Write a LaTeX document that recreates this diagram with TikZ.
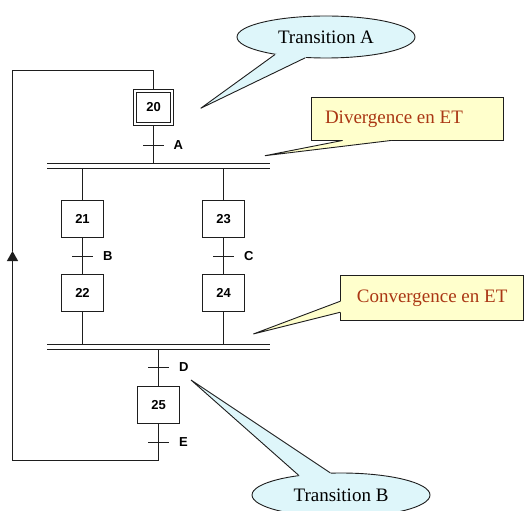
\documentclass[tikz,border=0pt]{standalone}
\usepackage{fontspec}
\setmainfont{Liberation Serif}
\setsansfont{Liberation Sans}
\usetikzlibrary{arrows.meta,calc,shapes.geometric}
\definecolor{linec}{RGB}{30,30,30}
\definecolor{bubblec}{RGB}{222,246,250}
\definecolor{notec}{RGB}{255,255,204}
\definecolor{notetext}{RGB}{170,55,20}
\begin{document}
\begin{tikzpicture}[x=1bp,y=-1bp,
  etape/.style={draw=linec, line width=1.2bp, minimum width=42bp, minimum height=37bp, inner sep=0pt,
    font=\sffamily\bfseries\fontsize{13bp}{15bp}\selectfont},
  etapeinit/.style={etape, double=white, double distance=2.2bp, line width=1bp,
    minimum width=37.6bp, minimum height=33.6bp},
  link/.style={draw=linec, line width=1.2bp},
  barline/.style={draw=linec, line width=1.2bp},
  tick/.style={draw=linec, line width=1.2bp},
  lbl/.style={anchor=west, inner sep=0pt, font=\sffamily\bfseries\fontsize{13bp}{15bp}\selectfont},
  bubble/.style={ellipse, draw=linec, fill=bubblec, line width=0.9bp, inner sep=0pt,
    minimum width=178bp, minimum height=42bp, font=\fontsize{19bp}{22bp}\selectfont},
  note/.style={rectangle, draw=linec, fill=notec, line width=0.9bp, inner ysep=0pt,
    text=notetext, font=\fontsize{19bp}{22bp}\selectfont},
  callline/.style={draw=linec, line width=0.9bp, line join=miter}
]
\useasboundingbox (0,0) rectangle (525,511);

% coordinates
\coordinate (loopTL) at (12.5,70.5);
\coordinate (loopBL) at (12.5,460.5);
\coordinate (arr) at (12.5,251);
\coordinate (tA) at (153.5,145.5);
\coordinate (divTL) at (47,163.5);
\coordinate (divTR) at (269.5,163.5);
\coordinate (divBL) at (47,168.5);
\coordinate (divBR) at (269.5,168.5);
\coordinate (tB) at (82.5,256.5);
\coordinate (tC) at (223.5,256.5);
\coordinate (convTL) at (47,344.5);
\coordinate (convTR) at (269.5,344.5);
\coordinate (convBL) at (47,349.5);
\coordinate (convBR) at (269.5,349.5);
\coordinate (tD) at (158.5,367.5);
\coordinate (tE) at (158.5,442.5);

% steps
\node[etapeinit] (s20) at (153.5,107.5) {20};
\node[etape] (s21) at (82.5,219) {21};
\node[etape] (s23) at (223.5,219) {23};
\node[etape] (s22) at (82.5,293) {22};
\node[etape] (s24) at (223.5,293) {24};
\node[etape] (s25) at (158.5,405) {25};

% links
\draw[link] (loopTL) -| (s20.north);
\draw[link] (s20.south) -- (s20.south |- divTL);
\draw[barline] (divTL) -- (divTR);
\draw[barline] (divBL) -- (divBR);
\draw[link] (s21.north |- divBL) -- (s21.north);
\draw[link] (s23.north |- divBL) -- (s23.north);
\draw[link] (s21.south) -- (s22.north);
\draw[link] (s23.south) -- (s24.north);
\draw[link] (s22.south) -- (s22.south |- convTL);
\draw[link] (s24.south) -- (s24.south |- convTL);
\draw[barline] (convTL) -- (convTR);
\draw[barline] (convBL) -- (convBR);
\draw[link] (tD |- convBL) -- (s25.north);
\draw[link] (s25.south) |- (loopBL);
\draw[link, -{Triangle[length=10bp,width=11bp]}] (loopBL) -- (arr);
\draw[link] (arr) -- (loopTL);

% transitions
\draw[tick] ([xshift=-10.5bp]tA) -- ([xshift=10.5bp]tA);
\draw[tick] ([xshift=-10.5bp]tB) -- ([xshift=10.5bp]tB);
\draw[tick] ([xshift=-10.5bp]tC) -- ([xshift=10.5bp]tC);
\draw[tick] ([xshift=-10.5bp]tD) -- ([xshift=10.5bp]tD);
\draw[tick] ([xshift=-10.5bp]tE) -- ([xshift=10.5bp]tE);
\node[lbl] (lA) at ([xshift=20bp]tA) {A};
\node[lbl] (lB) at ([xshift=20.5bp]tB) {B};
\node[lbl] (lC) at ([xshift=20.5bp]tC) {C};
\node[lbl] (lD) at ([xshift=20.5bp]tD) {D};
\node[lbl] (lE) at ([xshift=20.5bp]tE) {E};

% callout Transition A
\node[bubble] (cA) at (326,37) {Transition A};
\coordinate (pA) at (200.7,108.3);
\fill[bubblec] (cA.199) -- (pA) -- (cA.225) -- ($(cA.225)!3bp!(cA.center)$) -- ($(cA.199)!3bp!(cA.center)$) -- cycle;
\draw[callline] (cA.199) -- (pA) -- (cA.225);

% callout Transition B
\node[bubble, minimum height=44bp] (cB) at (341,495) {Transition B};
\coordinate (pB) at (191,380);
\fill[bubblec] (cB.155.7) -- (pB) -- (cB.116.8) -- ($(cB.116.8)!3bp!(cB.center)$) -- ($(cB.155.7)!3bp!(cB.center)$) -- cycle;
\draw[callline] (cB.155.7) -- (pB) -- (cB.116.8);

% note Divergence
\node[note, inner xsep=13.3bp, minimum height=42.3bp] (nDiv) at (407.5,118.85) {\makebox[165bp][l]{Divergence en ET}};
\coordinate (pDiv) at (265,155.7);
\fill[notec] ([xshift=31.3bp]nDiv.south west) -- (pDiv) -- ([xshift=80bp]nDiv.south west) -- ([xshift=80bp,yshift=1.5bp]nDiv.south west) -- ([xshift=31.3bp,yshift=1.5bp]nDiv.south west) -- cycle;
\draw[callline] ([xshift=31.3bp]nDiv.south west) -- (pDiv) -- ([xshift=80bp]nDiv.south west);

% note Convergence
\node[note, minimum width=182.8bp, minimum height=44.3bp, inner xsep=0pt] (nConv) at (432.1,297.85) {Convergence en ET};
\coordinate (pConv) at (253.3,334);
\fill[notec] ([yshift=-26bp]nConv.north west) -- (pConv) -- ([yshift=-37bp]nConv.north west) -- ([yshift=-37bp,xshift=1.5bp]nConv.north west) -- ([yshift=-26bp,xshift=1.5bp]nConv.north west) -- cycle;
\draw[callline] ([yshift=-26bp]nConv.north west) -- (pConv) -- ([yshift=-37bp]nConv.north west);
\end{tikzpicture}
\end{document}
